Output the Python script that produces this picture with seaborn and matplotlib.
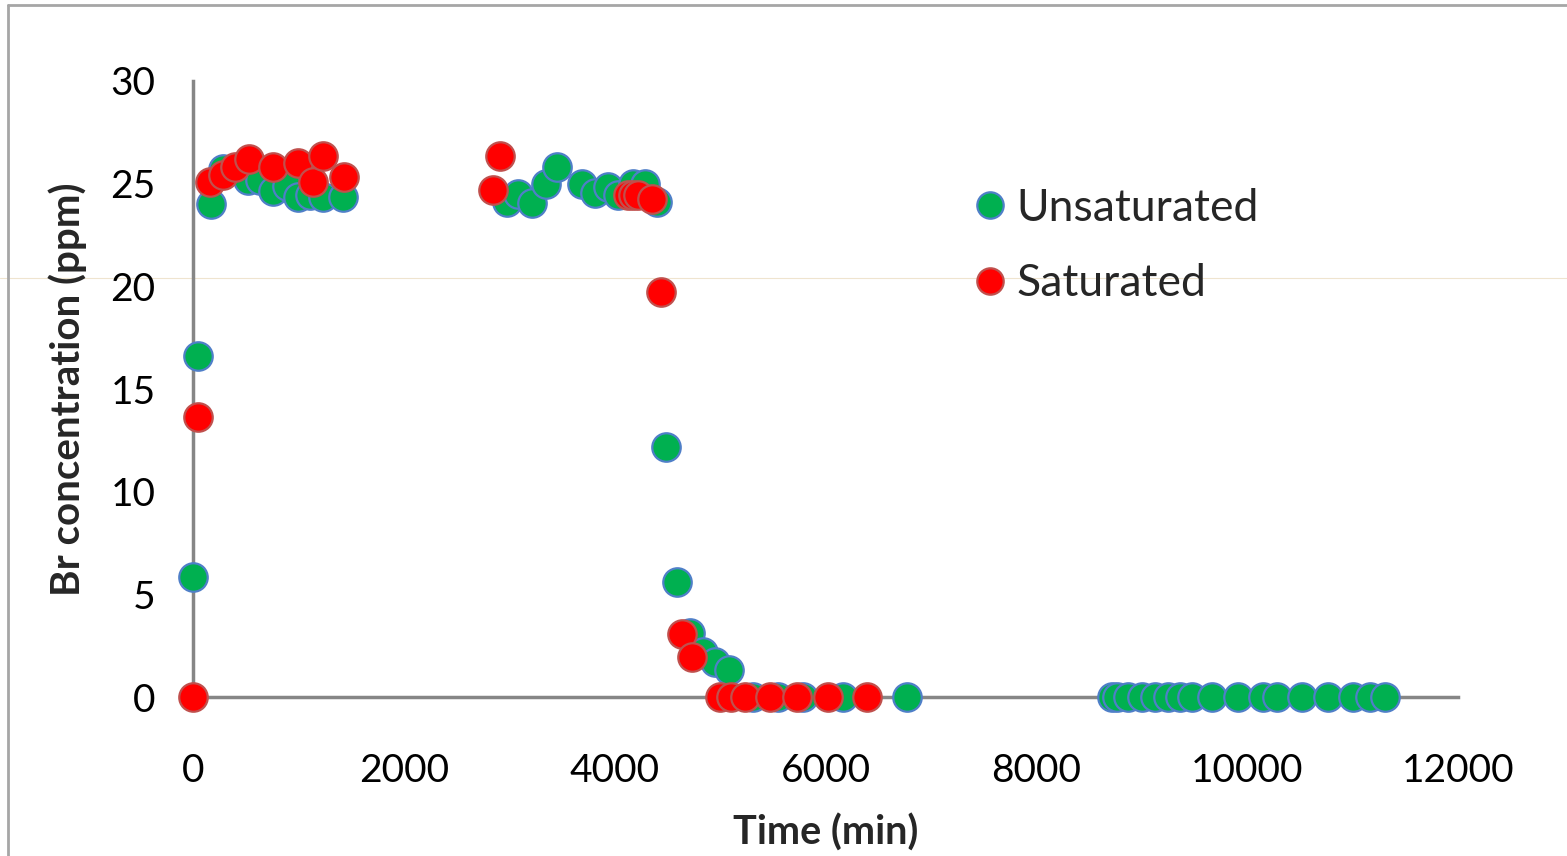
import matplotlib
matplotlib.use("Agg")
import matplotlib.pyplot as plt
from matplotlib.lines import Line2D
import seaborn as sns
import pandas as pd

# Unsaturated series
unsat_time = [0, 47, 171, 280, 522, 636, 759, 892, 996, 1110, 1233, 1423,
              2979, 3083, 3216, 3348, 3453, 3690, 3813, 3937, 4031, 4174, 4288, 4401,
              4487, 4591, 4714, 4838, 4952, 5085,
              5312, 5549, 5786, 6166, 6773,
              8717, 8765, 8869, 9002, 9126, 9249, 9363, 9476, 9666, 9913,
              10150, 10283, 10520, 10767, 11004, 11165, 11307]
unsat_conc = [5.85, 16.6, 24.0, 25.7, 25.2, 25.2, 24.65, 24.9, 24.35, 24.45, 24.35, 24.35,
              24.1, 24.5, 24.05, 25.0, 25.8, 25.0, 24.55, 24.85, 24.45, 25.0, 25.0, 24.1,
              12.2, 5.6, 3.1, 2.2, 1.7, 1.3,
              0, 0, 0, 0, 0,
              0, 0, 0, 0, 0, 0, 0, 0, 0, 0,
              0, 0, 0, 0, 0, 0, 0]

# Saturated series
sat_time = [0, 47, 161, 285, 398, 531, 759, 996, 1138, 1233, 1432,
            2846, 2912, 4126, 4174, 4221, 4354,
            4439, 4638, 4733,
            5000, 5104, 5236, 5473, 5730, 6024, 6393]
sat_conc = [0, 13.64, 25.1, 25.4, 25.8, 26.2, 25.8, 26.0, 25.1, 26.35, 25.3,
            24.7, 26.35, 24.45, 24.45, 24.45, 24.25,
            19.7, 3.07, 1.95,
            0, 0, 0, 0, 0, 0, 0]

x_ticks = [0, 2000, 4000, 6000, 8000, 10000, 12000]
y_ticks = [0, 5, 10, 15, 20, 25, 30]
series_names = ["Unsaturated", "Saturated"]

sns.set_theme(style="white")
plt.rcParams['font.family'] = ['Lato', 'DejaVu Sans']

fig = plt.figure(figsize=(15.67, 8.56), dpi=100)
ax = fig.add_axes([0.1232, 0.1857, 0.8072, 0.7197])
ax.patch.set_alpha(0)

df_u = pd.DataFrame({"t": unsat_time, "c": unsat_conc})
df_s = pd.DataFrame({"t": sat_time, "c": sat_conc})

green, green_edge = "#00B050", "#4F7FC8"
red, red_edge = "#FF0000", "#C0504D"

sns.scatterplot(data=df_u, x="t", y="c", ax=ax, s=420, color=green,
                edgecolor=green_edge, linewidth=1.6, zorder=3, clip_on=False)
sns.scatterplot(data=df_s, x="t", y="c", ax=ax, s=420, color=red,
                edgecolor=red_edge, linewidth=1.6, zorder=4, clip_on=False)

ax.set_xlim(0, 12000)
ax.set_ylim(0, 30)
ax.set_xticks(x_ticks)
ax.set_yticks(y_ticks)
ax.set_xticklabels([str(v) for v in x_ticks])
ax.set_yticklabels([str(v) for v in y_ticks])
ax.tick_params(axis='both', length=0, labelsize=28, colors='black')
ax.tick_params(axis='x', pad=40)
ax.tick_params(axis='y', pad=27)

for side in ["top", "right"]:
    ax.spines[side].set_visible(False)
for side in ["left", "bottom"]:
    ax.spines[side].set_color("#868686")
    ax.spines[side].set_linewidth(2.5)
ax.grid(False)

ax.set_xlabel("Time (min)", fontsize=28.5, fontweight='bold', labelpad=18)
ax.set_ylabel("Br concentration (ppm)", fontsize=29, fontweight='bold', labelpad=17)

handles = [
    Line2D([0], [0], marker='o', linestyle='', markersize=19, markerfacecolor=green,
           markeredgecolor=green_edge, markeredgewidth=1.6),
    Line2D([0], [0], marker='o', linestyle='', markersize=19, markerfacecolor=red,
           markeredgecolor=red_edge, markeredgewidth=1.6),
]
ax.legend(handles, series_names, loc='center left', bbox_to_anchor=(0.602, 0.732),
          frameon=False, fontsize=32, handlelength=0.6, handletextpad=0.3,
          labelspacing=0.78, borderpad=0)

# figure frame (top & left) and faint guide line
fig.add_artist(Line2D([8/1567, 8/1567], [0, 1 - 5/856], color="#A6A6A6", lw=2,
                      transform=fig.transFigure))
fig.add_artist(Line2D([8/1567, 1], [1 - 5/856, 1 - 5/856], color="#A6A6A6", lw=2,
                      transform=fig.transFigure))
fig.add_artist(Line2D([0, 1], [1 - 278/856, 1 - 278/856], color="#EFE4CF", lw=0.8,
                      transform=fig.transFigure, zorder=-1))

fig.savefig("out.png", dpi=100)
